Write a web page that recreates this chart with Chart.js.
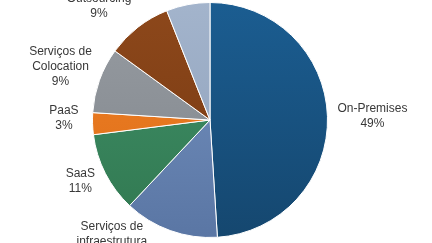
<!DOCTYPE html>
<html lang="pt">
<head>
    <meta charset="UTF-8">
    <title>Distribuição</title>
    <script src="https://cdn.jsdelivr.net/npm/chart.js"></script>
    <style>
        body { margin: 0; background: #fff; }
        .chart-box { width: 432px; height: 243px; }
    </style>
</head>
<body>
    <div class="chart-box">
        <canvas id="pieChart"></canvas>
    </div>

    <script>
        // categories (each label split into lines) and their shares in %
        const categories = [
            ['On-Premises'],
            ['Serviços de', 'infraestrutura'],
            ['SaaS'],
            ['PaaS'],
            ['Serviços de', 'Colocation'],
            ['Outsourcing'],
            ['Outros']
        ];
        const shares = [49, 13, 11, 3, 9, 9, 6];

        // slice colours: top and bottom of the vertical shading
        const topColors = ['#1b5d91', '#7693c1', '#40916a', '#f08226', '#979ca2', '#8d481b', '#a3b4cc'];
        const bottomColors = ['#15476f', '#5a76a4', '#317850', '#dc6c18', '#7f848a', '#763811', '#8d9fb9'];

        // hand nudges for labels that were moved in the original
        const labelNudge = [[0, 1], [-43, -19], [-3, -4], [-4, -6], [0, -3], [-13, -1], [-2, -18]];

        const outsideLabels = {
            id: 'outsideLabels',
            afterDatasetsDraw(chart) {
                const ctx = chart.ctx;
                const meta = chart.getDatasetMeta(0);
                const lh = 15;
                ctx.save();
                ctx.font = '12px "Liberation Sans", Arial, sans-serif';
                ctx.fillStyle = '#383838';
                ctx.textAlign = 'center';
                ctx.textBaseline = 'middle';
                meta.data.forEach((arc, i) => {
                    const p = arc.getProps(['x', 'y', 'startAngle', 'endAngle', 'outerRadius'], true);
                    const mid = (p.startAngle + p.endAngle) / 2;
                    const dx = Math.cos(mid), dy = Math.sin(mid);
                    const r = p.outerRadius + 10;
                    const lines = categories[i].concat(shares[i] + '%');
                    const w = Math.max(...lines.map(l => ctx.measureText(l).width));
                    const h = lines.length * lh;
                    const cx = p.x + dx * r + dx * w / 2 + labelNudge[i][0];
                    const cy = p.y + dy * r + dy * h / 2 + labelNudge[i][1];
                    lines.forEach((l, k) => {
                        ctx.fillText(l, cx, cy - h / 2 + lh / 2 + k * lh);
                    });
                });
                ctx.restore();
            }
        };

        function sliceFill(context) {
            const chart = context.chart;
            const area = chart.chartArea;
            const i = context.dataIndex;
            if (!area) return topColors[i];
            const g = chart.ctx.createLinearGradient(0, area.top, 0, area.bottom);
            g.addColorStop(0, topColors[i]);
            g.addColorStop(1, bottomColors[i]);
            return g;
        }

        const ctx = document.getElementById('pieChart').getContext('2d');
        new Chart(ctx, {
            type: 'pie',
            data: {
                labels: categories.map(c => c.join(' ')),
                datasets: [{
                    data: shares,
                    backgroundColor: sliceFill,
                    borderColor: '#ffffff',
                    borderWidth: 1
                }]
            },
            options: {
                responsive: true,
                maintainAspectRatio: false,
                animation: false,
                layout: {
                    padding: { top: 2, bottom: 5, left: 0, right: 12 }
                },
                plugins: {
                    legend: { display: false },
                    tooltip: { enabled: false }
                }
            },
            plugins: [outsideLabels]
        });
    </script>
</body>
</html>
